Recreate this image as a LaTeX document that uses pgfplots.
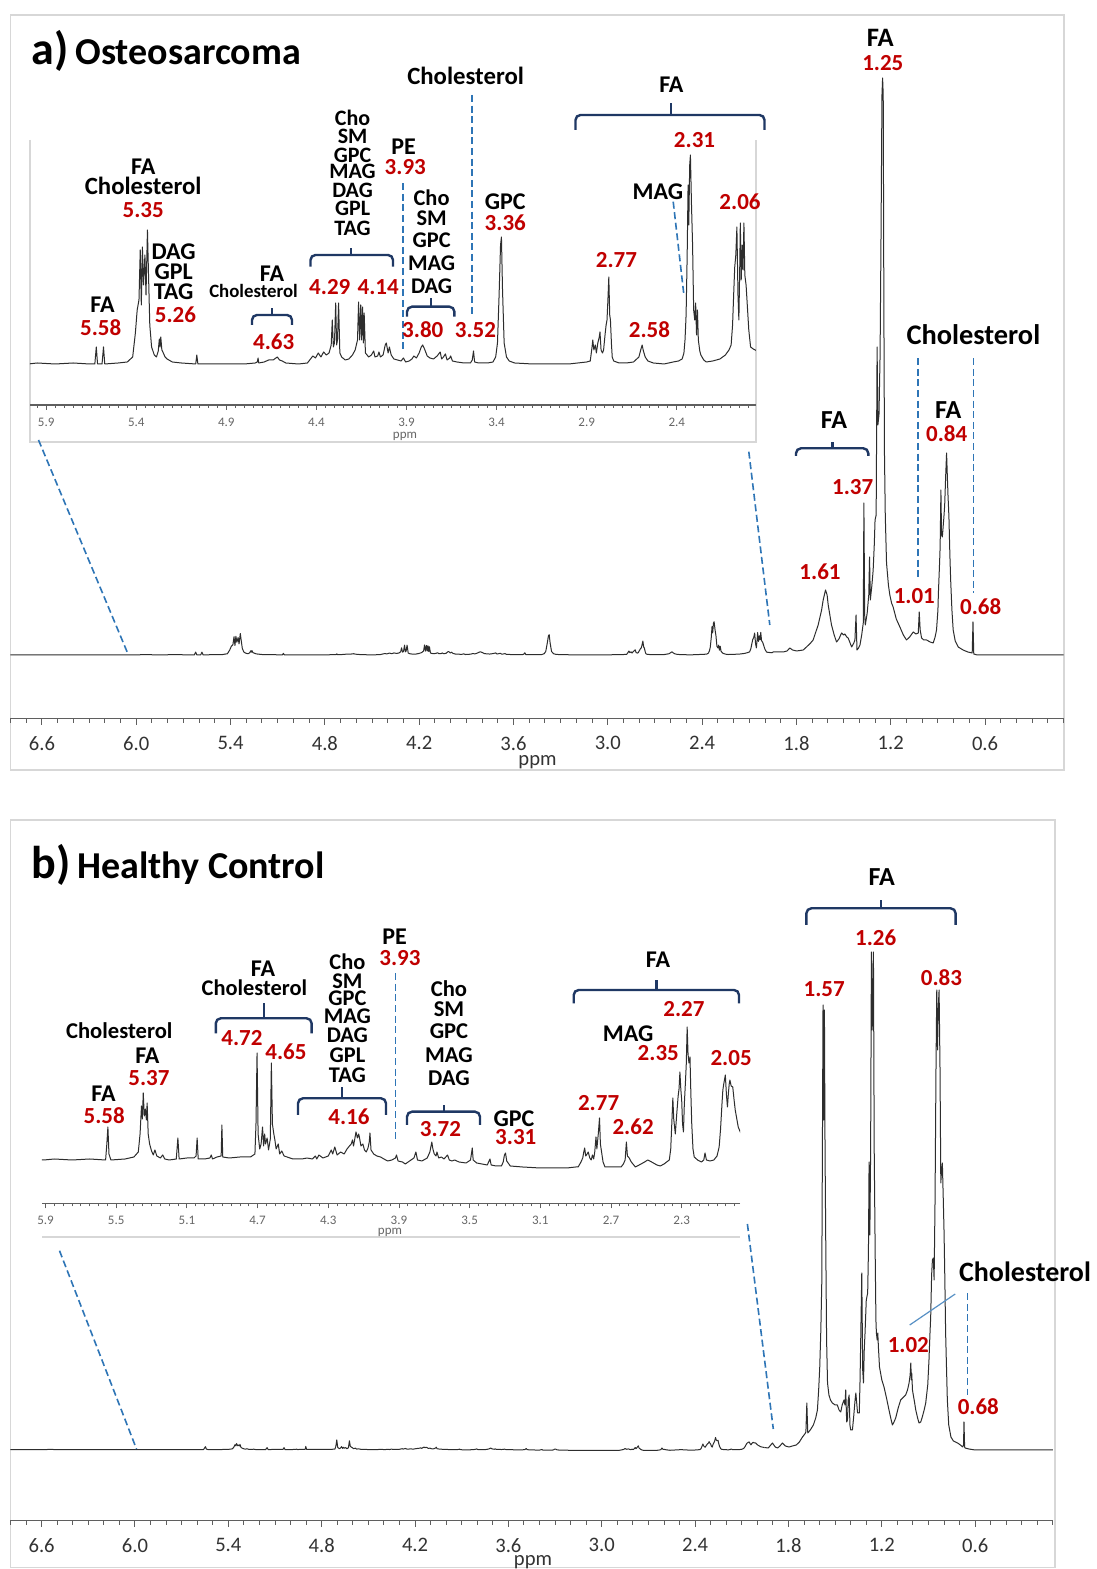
\documentclass[border=0pt]{standalone}
\usepackage{fontspec}
\setmainfont{Carlito}
\usepackage{pgfplots}
\usepackage{pgfplotstable}
\pgfplotsset{compat=1.18}
\definecolor{numred}{RGB}{192,0,0}
\definecolor{brk}{RGB}{31,56,100}
\definecolor{dsh}{RGB}{46,117,182}
\definecolor{frm}{RGB}{215,215,215}
\definecolor{axc}{RGB}{95,95,95}
\definecolor{trc}{RGB}{45,45,45}

\pgfplotstableread{
x y
6.80 0
6.60 1
6.40 0
6.20 1
6.00 1
5.95 2
5.85 1
5.75 2
5.66 1
5.630 1
5.622 18
5.615 1
5.590 1
5.582 18
5.575 1
5.50 2
5.45 3
5.42 8
5.405 32
5.395 55
5.385 65
5.378 115
5.372 60
5.366 118
5.360 80
5.352 110
5.346 70
5.338 135
5.332 90
5.325 40
5.315 18
5.300 10
5.288 8
5.278 14
5.272 26
5.268 18
5.264 28
5.258 15
5.250 12
5.240 8
5.229 6
5.200 3
5.150 2
5.070 1
5.064 10
5.058 1
5.000 1
4.900 1
4.800 1
4.740 2
4.728 3
4.724 7
4.720 2
4.690 3
4.665 5
4.640 5
4.625 7
4.617 8
4.605 5
4.590 4
4.570 2
4.500 1
4.450 2
4.420 9
4.405 7
4.390 12
4.375 8
4.360 13
4.345 10
4.330 12
4.318 20
4.312 45
4.306 18
4.300 22
4.293 62
4.288 20
4.283 25
4.277 62
4.270 12
4.260 8
4.240 5
4.220 6
4.200 10
4.185 15
4.172 25
4.166 63
4.160 25
4.154 60
4.149 25
4.144 58
4.139 22
4.135 52
4.128 12
4.110 8
4.095 10
4.082 14
4.075 8
4.060 9
4.053 13
4.045 8
4.030 10
4.018 20
4.012 22
4.002 12
3.995 18
3.985 10
3.970 6
3.950 5
3.930 4
3.917 7
3.905 3
3.885 4
3.870 6
3.859 9
3.845 7
3.830 12
3.818 18
3.810 20
3.800 16
3.785 9
3.770 7
3.750 6
3.730 9
3.713 13
3.705 6
3.695 8
3.684 11
3.675 5
3.660 7
3.655 9
3.645 4
3.620 3
3.580 2
3.545 2
3.535 5
3.528 14
3.522 3
3.500 2
3.450 2
3.420 3
3.405 8
3.395 22
3.386 70
3.378 120
3.373 128
3.367 75
3.358 22
3.345 8
3.330 4
3.300 2
3.200 1
3.100 1
3.000 1
2.950 2
2.900 3
2.880 4
2.870 18
2.866 25
2.860 15
2.852 20
2.846 12
2.838 22
2.830 28
2.826 33
2.820 15
2.812 12
2.806 15
2.798 30
2.792 40
2.787 45
2.782 65
2.777 88
2.772 50
2.768 45
2.762 20
2.758 8
2.750 4
2.720 2
2.680 2
2.640 3
2.610 8
2.600 15
2.592 20
2.585 14
2.575 8
2.560 4
2.530 2
2.470 1
2.420 3
2.390 4
2.370 6
2.360 12
2.354 25
2.348 50
2.342 110
2.337 180
2.333 140
2.328 200
2.324 210
2.318 160
2.312 120
2.306 55
2.300 45
2.295 62
2.290 30
2.285 55
2.280 25
2.272 14
2.266 10
2.250 5
2.236 3
2.200 4
2.160 6
2.130 10
2.110 15
2.098 20
2.090 40
2.083 75
2.078 98
2.072 110
2.066 138
2.060 70
2.055 45
2.050 100
2.047 142
2.042 85
2.037 120
2.032 95
2.027 142
2.022 90
2.015 80
2.010 65
2.000 35
1.990 18
1.975 16
1.964 15
1.955 14
}\insetA

\pgfplotstableread{
x y
1.955 2.3
1.948 3
1.920 3
1.884 3
1.860 4
1.842 7
1.825 5
1.799 4
1.757 5
1.736 8
1.710 12
1.694 15
1.662 30
1.640 45
1.630 55
1.615 65
1.605 60
1.598 50
1.577 30
1.560 20
1.545 13
1.530 16
1.513 22
1.500 20
1.492 21
1.480 18
1.471 17
1.449 8
1.435 12
1.428 15
1.421 40
1.415 5
1.405 7
1.396 10
1.385 20
1.375 32
1.371 152
1.366 40
1.362 30
1.350 42
1.340 60
1.335 98
1.330 55
1.320 70
1.312 85
1.305 110
1.300 135
1.293 140
1.287 308
1.282 230
1.275 240
1.268 300
1.262 420
1.256 560
1.252 577
1.248 560
1.244 350
1.240 200
1.235 140
1.227 92
1.215 70
1.206 60
1.195 52
1.185 48
1.165 36
1.142 28
1.120 20
1.100 15
1.080 18
1.057 23
1.040 21
1.025 22
1.019 43
1.013 25
1.004 17
0.990 15
0.972 15
0.950 13
0.930 12
0.918 18
0.909 25
0.900 45
0.897 62
0.890 90
0.886 108
0.881 165
0.877 120
0.872 118
0.866 130
0.862 138
0.857 150
0.851 178
0.845 202
0.840 178
0.836 160
0.830 138
0.824 100
0.819 75
0.811 45
0.803 25
0.790 14
0.771 8
0.740 5
0.710 3
0.682 2
0.677 33
0.672 1
0.650 0
0.500 0
0.300 0
0.100 0
}\highA

\pgfplotstableread{
x y
6.80 4
6.60 4
6.55 6
6.50 5
6.20 4
6.00 4
5.91 4
5.85 5
5.75 4
5.65 5
5.56 4
5.553 20
5.547 37
5.541 10
5.530 4
5.45 5
5.40 7
5.375 12
5.365 30
5.357 58
5.352 45
5.347 71
5.341 48
5.335 55
5.329 44
5.325 61
5.319 30
5.311 20
5.300 13
5.290 9
5.281 14
5.270 8
5.250 6
5.237 9
5.225 5
5.200 4
5.160 5
5.151 26
5.144 5
5.100 6
5.060 6
5.048 8
5.042 26
5.036 5
5.000 5
4.970 6
4.962 9
4.955 5
4.930 7
4.906 8
4.902 39
4.897 7
4.860 6
4.800 7
4.740 7
4.715 10
4.709 40
4.703 111
4.697 30
4.688 15
4.680 20
4.672 37
4.666 18
4.660 30
4.655 20
4.646 26
4.638 14
4.628 25
4.622 101
4.616 40
4.608 30
4.602 24
4.595 15
4.583 20
4.575 10
4.563 13
4.550 8
4.533 7
4.500 5
4.450 5
4.420 6
4.390 5
4.373 8
4.365 5
4.353 9
4.330 6
4.300 8
4.283 14
4.275 10
4.263 17
4.250 9
4.230 12
4.210 10
4.194 15
4.180 18
4.170 20
4.163 24
4.157 18
4.150 25
4.143 32
4.135 26
4.128 30
4.124 27
4.115 18
4.104 20
4.095 14
4.085 12
4.075 16
4.068 22
4.064 31
4.058 14
4.043 10
4.025 8
4.004 7
3.985 5
3.964 3
3.940 4
3.920 6
3.914 9
3.905 3
3.880 2
3.864 0
3.840 3
3.815 6
3.804 12
3.795 4
3.770 3
3.740 6
3.725 12
3.714 22
3.708 15
3.700 10
3.690 8
3.685 12
3.675 6
3.660 7
3.645 5
3.625 9
3.615 4
3.600 3
3.585 4
3.560 2
3.520 1
3.495 4
3.490 10
3.485 16
3.480 4
3.460 1
3.430 0
3.400 -1
3.385 5
3.378 -1
3.350 -2
3.320 -2
3.310 2
3.303 9
3.297 11
3.290 3
3.270 -2
3.200 -3
3.100 -4
3.000 -4
2.950 -4
2.900 -3
2.886 -3
2.870 2
2.860 6
2.854 12
2.849 16
2.843 8
2.835 10
2.829 12
2.820 6
2.812 4
2.805 9
2.798 5
2.792 12
2.785 27
2.780 15
2.772 30
2.765 46
2.760 20
2.755 14
2.745 2
2.734 -3
2.700 -3
2.660 -3
2.643 -3
2.630 0
2.620 4
2.613 22
2.607 8
2.597 6
2.585 2
2.562 -3
2.530 0
2.510 2
2.492 4
2.470 2
2.440 -1
2.421 -2
2.400 0
2.385 2
2.370 4
2.362 15
2.356 40
2.350 66
2.345 45
2.336 30
2.328 50
2.320 68
2.315 75
2.310 92
2.305 75
2.300 64
2.295 40
2.290 32
2.285 60
2.279 81
2.274 100
2.269 137
2.264 110
2.259 101
2.253 107
2.248 70
2.243 40
2.236 15
2.229 7
2.210 4
2.188 2
2.175 4
2.168 11
2.160 4
2.140 3
2.118 4
2.100 8
2.088 17
2.080 35
2.072 60
2.067 74
2.062 80
2.057 85
2.053 89
2.047 70
2.041 57
2.036 70
2.031 80
2.027 84
2.020 78
2.011 77
2.004 65
1.997 54
1.988 45
1.980 37
1.966 31
1.955 28
}\insetB

\pgfplotstableread{
x y
1.955 2.5
1.930 2
1.903 7
1.885 3
1.870 2
1.855 4
1.839 7
1.820 4
1.796 3
1.775 4
1.750 5
1.730 8
1.710 13
1.695 16
1.688 18
1.682 47
1.676 17
1.660 20
1.640 25
1.625 32
1.614 40
1.606 60
1.599 83
1.592 120
1.586 167
1.582 300
1.578 445
1.574 330
1.569 440
1.565 300
1.560 200
1.555 110
1.549 67
1.540 55
1.530 50
1.518 47
1.500 45
1.486 45
1.475 40
1.464 38
1.455 45
1.443 50
1.437 45
1.432 60
1.426 28
1.421 30
1.416 50
1.410 55
1.405 25
1.400 20
1.389 20
1.380 35
1.372 50
1.367 57
1.356 37
1.345 37
1.340 70
1.335 117
1.329 177
1.323 80
1.318 67
1.313 100
1.308 117
1.300 150
1.291 157
1.286 200
1.282 288
1.277 215
1.272 300
1.267 498
1.262 420
1.257 470
1.254 498
1.249 300
1.243 200
1.238 130
1.235 117
1.230 110
1.226 117
1.222 103
1.215 83
1.200 70
1.186 63
1.170 52
1.154 40
1.140 30
1.132 25
1.122 28
1.111 32
1.095 42
1.079 50
1.060 53
1.047 55
1.035 60
1.025 67
1.018 75
1.014 87
1.010 70
1.008 77
1.003 60
1.000 57
0.990 48
0.982 40
0.970 32
0.961 27
0.950 28
0.940 33
0.928 40
0.918 47
0.905 65
0.897 90
0.891 115
0.886 133
0.880 175
0.875 190
0.869 192
0.864 170
0.858 250
0.852 380
0.847 460
0.842 400
0.838 440
0.832 460
0.826 380
0.821 267
0.816 280
0.811 287
0.805 250
0.800 217
0.795 170
0.790 117
0.784 80
0.779 50
0.770 25
0.756 13
0.740 9
0.713 7
0.695 5
0.680 3
0.675 5
0.672 28
0.668 3
0.665 2
0.640 1
0.600 0
0.400 0
0.200 0
0.100 0
}\highB

\pgfplotsset{
  mainax/.style={scale only axis, x dir=reverse, xmin=0.1, xmax=6.8,
    axis x line*=bottom, axis y line=none,
    xtick={0.6,1.2,1.8,2.4,3.0,3.6,4.2,4.8,5.4,6.0,6.6},
    xticklabels={0.6,1.2,1.8,2.4,3.0,3.6,4.2,4.8,5.4,6.0,6.6},
    minor xtick={0.1,0.2,...,6.8},
    tick align=outside, major tick length=3pt, minor tick length=2pt,
    tick style={axc, line width=0.5pt},
    axis line style={axc, line width=0.8pt},
    xticklabel style={font=\fontsize{10.3}{10.3}\selectfont, text=black!80, anchor=north, inner sep=0pt, yshift=-5.6pt}},
  insax/.style={scale only axis, x dir=reverse,
    axis x line*=bottom, axis y line=none,
    tick align=outside, major tick length=2.5pt, minor tick length=1.5pt,
    tick style={axc, line width=0.4pt},
    axis line style={axc, line width=0.6pt},
    xticklabel style={font=\fontsize{6.5}{6.5}\selectfont, text=black!60, anchor=north, inner sep=0pt, yshift=-3.8pt}},
  spec/.style={trc, line width=0.5pt, line join=round, mark=none}
}

\newcommand{\lab}[5]{\node[inner sep=0pt, anchor=base, text=#4, font=\bfseries\fontsize{#3}{#3}\selectfont] at (#1,{#2+0.644*#3}) {#5};}
\newcommand{\brkt}[6]{%
  \draw[brk, line width=1.2pt, rounded corners=2.5pt] (#1,#4) -- (#1,#3) -- (#2,#3) -- (#2,#4);
  \draw[brk, line width=1.2pt] (#5,#3) -- (#5,#6);}

\begin{document}
\begin{tikzpicture}
\fill[white] (0,0) rectangle (548.5pt,784.5pt);
\begin{scope}[shift={(0pt,784.5pt)}, x=0.5pt, y=-0.5pt]
\draw[frm, line width=0.75pt] (10.5,15) rectangle (1064,770);
\draw[frm, line width=0.75pt] (10.5,820) rectangle (1055,1567.5);
\draw[frm, line width=0.75pt] (30,140) -- (30,442) -- (756,442) -- (756,140);
\draw[frm, line width=0.75pt] (42,1237) -- (740,1237);
\end{scope}

% ---------- Panel a main
\begin{axis}[mainax, at={(5.25pt,425.15pt)}, anchor=south west,
  width=526.6pt, height=329.35pt, ymin=-63.7, ymax=595]
\addplot[spec] table[x=x, y expr=\thisrow{y}/6.3] {\insetA};
\addplot[spec] table[x=x, y=y] {\highA};
\end{axis}

% ---------- Panel a inset
\begin{axis}[insax, at={(15pt,582pt)}, anchor=south west,
  width=363pt, height=132.5pt, xmin=1.96, xmax=5.99, ymin=-40, ymax=225,
  xtick={2.4,2.9,3.4,3.9,4.4,4.9,5.4,5.9},
  xticklabels={2.4,2.9,3.4,3.9,4.4,4.9,5.4,5.9},
  minor xtick={2.0,2.05,...,5.95}]
\addplot[spec] table[x=x, y=y] {\insetA};
\end{axis}

% ---------- Panel b main
\begin{axis}[mainax, at={(5.25pt,24.15pt)}, anchor=south west,
  width=521.25pt, height=325.35pt, ymin=-70.7, ymax=580]
\addplot[spec] table[x=x, y expr=\thisrow{y}/11] {\insetB};
\addplot[spec] table[x=x, y=y] {\highB};
\end{axis}

% ---------- Panel b inset
\begin{axis}[insax, at={(21pt,182.85pt)}, anchor=south west,
  width=349pt, height=121.65pt, xmin=1.97, xmax=5.92, ymin=-39.3, ymax=204,
  xtick={2.3,2.7,3.1,3.5,3.9,4.3,4.7,5.1,5.5,5.9},
  xticklabels={2.3,2.7,3.1,3.5,3.9,4.3,4.7,5.1,5.5,5.9},
  minor xtick={2.0,2.05,...,5.9}]
\addplot[spec] table[x=x, y=y] {\insetB};
\end{axis}

\begin{scope}[shift={(0pt,784.5pt)}, x=0.5pt, y=-0.5pt]
% titles
\node[anchor=base west, inner sep=0pt] at (31,65) {\bfseries\fontsize{23}{23}\selectfont a)\hspace{3.5pt}\fontsize{19}{19}\selectfont Osteosarcoma};
\node[anchor=base west, inner sep=0pt] at (31,878.3) {\bfseries\fontsize{23}{23}\selectfont b)\hspace{3.5pt}\fontsize{19}{19}\selectfont Healthy Control};
% axis titles
\node[text=black!80, font=\fontsize{10.3}{10.3}\selectfont, inner sep=0pt] at (537.5,761.7) {ppm};
\node[text=black!60, font=\fontsize{6.5}{6.5}\selectfont, inner sep=0pt] at (405,436.7) {ppm};
\node[text=black!80, font=\fontsize{10.3}{10.3}\selectfont, inner sep=0pt] at (533,1562.3) {ppm};
\node[text=black!60, font=\fontsize{6.5}{6.5}\selectfont, inner sep=0pt] at (390,1232) {ppm};

% dashed connectors a
\begin{scope}[dsh, line width=0.8pt, dash pattern=on 3.5pt off 1.8pt]
\draw (38.5,440) -- (128,654);
\draw (748.8,451.7) -- (769.8,625);
\draw (402.8,183.3) -- (402.8,351.7);
\draw (472,95) -- (472,316.7);
\draw (673.2,201.7) -- (683.9,295);
\draw (917.7,358.3) -- (917.7,576.7);
\draw (973.3,358.3) -- (973.3,593.3);
% b
\draw (59.5,1250.7) -- (136.5,1449);
\draw (747.4,1224) -- (773.3,1429);
\draw (395.4,973.3) -- (395.4,1141.7);
\draw (967.3,1293.3) -- (967.3,1395);
\end{scope}
\draw[dsh!80, line width=0.6pt] (955.2,1294) -- (909.7,1325);

% ----- panel a inset labels
\lab{465.6}{76.7}{12.4}{black}{Cholesterol}
\lab{352.6}{118.3}{11}{black}{Cho}
\lab{352.6}{136.7}{11}{black}{SM}
\lab{352.6}{155}{11}{black}{GPC}
\lab{352.6}{171.7}{11}{black}{MAG}
\lab{352.6}{190}{11}{black}{DAG}
\lab{352.6}{208.3}{11}{black}{GPL}
\lab{352.6}{228.3}{11}{black}{TAG}
\brkt{310.5}{393}{255}{266.7}{351}{248}
\lab{329.8}{286.7}{11.5}{numred}{4.29}
\lab{378.2}{286.7}{11.5}{numred}{4.14}
\lab{403.5}{146.7}{12}{black}{PE}
\lab{405.3}{166.7}{11.5}{numred}{3.93}
\lab{431.6}{198.3}{11.2}{black}{Cho}
\lab{431.6}{218.3}{11.2}{black}{SM}
\lab{431.6}{240}{11.2}{black}{GPC}
\lab{431.6}{263.3}{11.2}{black}{MAG}
\lab{431.6}{286.7}{11.2}{black}{DAG}
\brkt{407}{454.4}{306.7}{316.7}{430.9}{298.3}
\lab{422.8}{330}{11.5}{numred}{3.80}
\lab{475.4}{330}{11.5}{numred}{3.52}
\lab{505.3}{201.7}{12}{black}{GPC}
\lab{505.3}{223.3}{11.5}{numred}{3.36}
\lab{143.2}{166.7}{12}{black}{FA}
\lab{143.2}{186.7}{12.4}{black}{Cholesterol}
\lab{143.2}{210}{11.5}{numred}{5.35}
\lab{173.7}{251.7}{12}{black}{DAG}
\lab{173.7}{271.7}{12}{black}{GPL}
\lab{173.7}{291.7}{12}{black}{TAG}
\lab{175.4}{315}{11.5}{numred}{5.26}
\lab{102.5}{305}{12}{black}{FA}
\lab{100.7}{328.3}{11.5}{numred}{5.58}
\lab{272}{273.3}{12}{black}{FA}
\lab{253.5}{291.7}{9.4}{black}{Cholesterol}
\brkt{252}{292}{315}{325}{272}{308.3}
\lab{273.7}{341.7}{11.5}{numred}{4.63}
\lab{671.4}{85}{12}{black}{FA}
\brkt{575.5}{764.5}{115}{130}{670.7}{103.3}
\lab{694.5}{140}{11.5}{numred}{2.31}
\lab{658}{191.7}{12}{black}{MAG}
\lab{740}{201.7}{11.5}{numred}{2.06}
\lab{616.4}{260}{11.5}{numred}{2.77}
\lab{649.4}{330}{11.5}{numred}{2.58}
% ----- panel a main labels
\lab{880.3}{38.3}{13.3}{black}{FA}
\lab{882.8}{63.3}{11.5}{numred}{1.25}
\lab{973.4}{335}{14.2}{black}{Cholesterol}
\lab{948.3}{410}{13}{black}{FA}
\lab{946.7}{434}{11.5}{numred}{0.84}
\lab{834}{420}{13}{black}{FA}
\brkt{796}{868.3}{448.3}{456}{832.3}{441.7}
\lab{852.7}{486.7}{11.5}{numred}{1.37}
\lab{820}{572.3}{11.5}{numred}{1.61}
\lab{914.3}{595.7}{11.5}{numred}{1.01}
\lab{980.7}{607.3}{11.5}{numred}{0.68}

% ----- panel b inset labels
\lab{394.7}{936.7}{12}{black}{PE}
\lab{400}{958.3}{11.5}{numred}{3.93}
\lab{347.4}{962.7}{11.2}{black}{Cho}
\lab{347.4}{981.7}{11.2}{black}{SM}
\lab{347.4}{998.3}{11.2}{black}{GPC}
\lab{347.4}{1016}{11.2}{black}{MAG}
\lab{347.4}{1035}{11.2}{black}{DAG}
\lab{347.4}{1055}{11.2}{black}{GPL}
\lab{347.4}{1075}{11.2}{black}{TAG}
\brkt{298}{386}{1098.3}{1115}{342}{1086.7}
\lab{349}{1116.7}{11.5}{numred}{4.16}
\lab{263}{968.3}{12}{black}{FA}
\lab{254.4}{988.3}{11.2}{black}{Cholesterol}
\brkt{215.8}{311.6}{1018.3}{1033.3}{263.9}{1003.3}
\lab{242}{1038.3}{11.5}{numred}{4.72}
\lab{286}{1051.7}{11.5}{numred}{4.65}
\lab{119.3}{1031.7}{11.3}{black}{Cholesterol}
\lab{147.4}{1056}{12}{black}{FA}
\lab{149}{1078.3}{11.5}{numred}{5.37}
\lab{103.5}{1093.3}{12}{black}{FA}
\lab{104.2}{1116}{11.5}{numred}{5.58}
\lab{449}{989.3}{11.3}{black}{Cho}
\lab{449}{1009.3}{11.3}{black}{SM}
\lab{449}{1031.7}{11.3}{black}{GPC}
\lab{449}{1055}{11.3}{black}{MAG}
\lab{449}{1078.3}{11.3}{black}{DAG}
\brkt{407}{480}{1111.7}{1125}{443.9}{1105}
\lab{440.4}{1129.3}{11.5}{numred}{3.72}
\lab{514}{1118.3}{12}{black}{GPC}
\lab{515.8}{1137.3}{11.5}{numred}{3.31}
\lab{658}{960}{12}{black}{FA}
\brkt{573.7}{739}{990}{1003.3}{656.5}{980}
\lab{683.9}{1009.3}{11.5}{numred}{2.27}
\lab{628.1}{1034}{12}{black}{MAG}
\lab{658.3}{1053.3}{11.5}{numred}{2.35}
\lab{731.1}{1058.3}{11.5}{numred}{2.05}
\lab{598.6}{1103.3}{11.5}{numred}{2.77}
\lab{633.1}{1127.3}{11.5}{numred}{2.62}
% ----- panel b main labels
\lab{881.7}{877.3}{13}{black}{FA}
\brkt{806.4}{955.6}{908.3}{925}{881}{900}
\lab{875.7}{938.3}{11.5}{numred}{1.26}
\lab{824.2}{989}{11.5}{numred}{1.57}
\lab{941.4}{977.7}{11.5}{numred}{0.83}
\lab{1025}{1272.3}{14}{black}{Cholesterol}
\lab{908.3}{1345}{11.5}{numred}{1.02}
\lab{978.3}{1406.7}{11.5}{numred}{0.68}
\end{scope}
\pgfresetboundingbox
\path[use as bounding box] (0,0) rectangle (548.5pt,784.5pt);
\end{tikzpicture}
\end{document}
